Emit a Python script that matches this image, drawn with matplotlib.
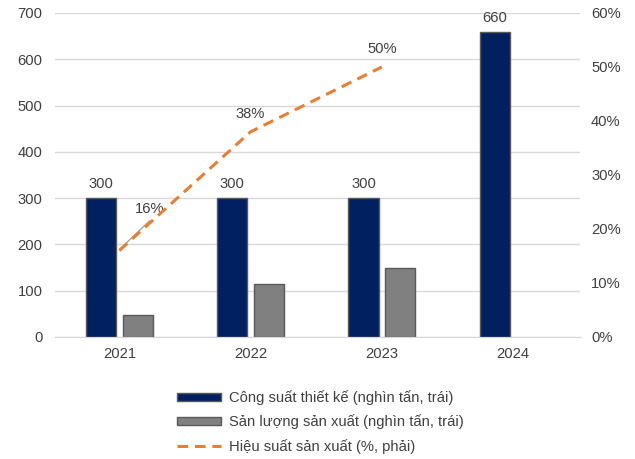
import matplotlib
matplotlib.use("Agg")
import matplotlib.pyplot as plt
import numpy as np
from matplotlib.patches import Rectangle
from matplotlib.lines import Line2D

plt.rcParams['font.family'] = ['Liberation Sans', 'DejaVu Sans']

years = ['2021', '2022', '2023', '2024']
capacity = [300, 300, 300, 660]
output = [48, 115, 150, None]
efficiency = [16, 38, 50]
eff_label_pos = [(0.23, 23.7), (1.0, 41.3), (2.0, 53.3)]

label_capacity = 'Công suất thiết kế (nghìn tấn, trái)'
label_output = 'Sản lượng sản xuất (nghìn tấn, trái)'
label_eff = 'Hiệu suất sản xuất (%, phải)'

navy = '#002060'
grey = '#808080'
edge = '#595959'
orange = '#ED7D31'
txt = '#404040'
gridc = '#d9d9d9'
fs = 10.6

fig = plt.figure(figsize=(6.35, 4.59), dpi=100)
ax = fig.add_axes([55/635, 1-337/459, 525/635, 324/459])
ax2 = ax.twinx()

x = np.arange(len(years))
w = 0.23
off = 0.14
ax.bar(x - off, capacity, w, color=navy, edgecolor=edge, linewidth=1.0, zorder=3)
ox = [xi + off for xi, v in zip(x, output) if v is not None]
ov = [v for v in output if v is not None]
ax.bar(ox, ov, w, color=grey, edgecolor=edge, linewidth=1.0, zorder=3)

for xi, v in zip(x, capacity):
    ax.annotate(str(v), (xi - off, v), xytext=(0, 10), textcoords='offset points',
                ha='center', va='center', fontsize=fs, color=txt)

ax.set_xlim(-0.49, 3.51)
ax.set_ylim(0, 700)
ax.set_yticks(range(0, 701, 100))
ax.grid(axis='y', color=gridc, linewidth=1.0, zorder=0)
ax.set_axisbelow(True)
ax.set_xticks(x)
ax.set_xticklabels(years)

ax2.set_ylim(0, 60)
ax2.set_yticks(range(0, 61, 10))
ax2.set_yticklabels([f'{v}%' for v in range(0, 61, 10)])
ex = x[:len(efficiency)]
ax2.plot(ex, efficiency, color=orange, linewidth=2.2, linestyle=(0, (3.5, 2.2)), zorder=5)

# leader line for first label
ax2.plot([ex[0] + 0.005, eff_label_pos[0][0]], [efficiency[0] + 0.3, 21.5], color='#a6a6a6',
         linewidth=1.0, zorder=4)
for (lx, ly), v in zip(eff_label_pos, efficiency):
    ax2.text(lx, ly, f'{v}%', ha='center', va='center', fontsize=fs, color=txt)

for a in (ax, ax2):
    for s in ['top', 'left', 'right']:
        a.spines[s].set_visible(False)
    a.spines['bottom'].set_color(gridc)
    a.tick_params(length=0, labelsize=fs, colors=txt)
ax.tick_params(axis='y', pad=9)
ax2.tick_params(axis='y', pad=8)
ax.tick_params(axis='x', pad=7)

handles = [Rectangle((0, 0), 1, 1, facecolor=navy, edgecolor=edge, linewidth=1.0),
           Rectangle((0, 0), 1, 1, facecolor=grey, edgecolor=edge, linewidth=1.0),
           Line2D([0], [0], color=orange, linewidth=2.2, linestyle=(0, (3.5, 2.2)))]
fig.legend(handles, [label_capacity, label_output, label_eff], loc='upper left',
           bbox_to_anchor=(177/635, 1-390/459), frameon=False, fontsize=fs,
           handlelength=3.0, handleheight=0.45, handletextpad=0.55, labelspacing=0.65,
           borderpad=0, borderaxespad=0, labelcolor=txt)

fig.savefig('out.png', dpi=100)
